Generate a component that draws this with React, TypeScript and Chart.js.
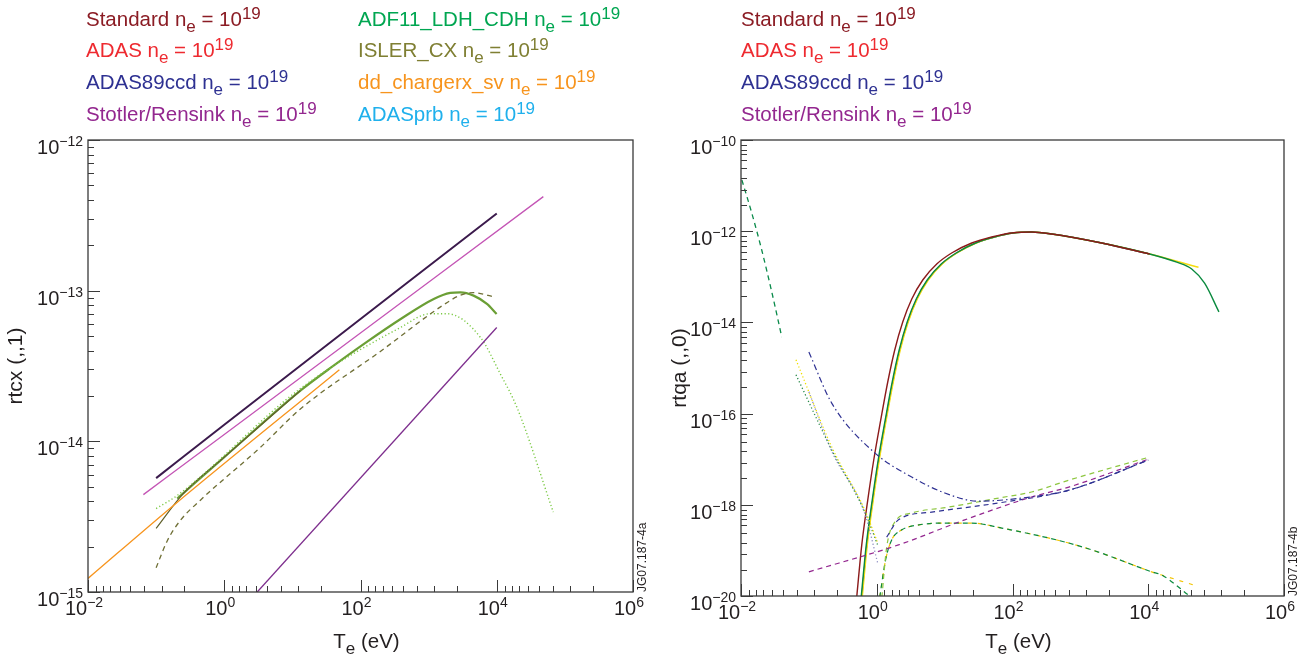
import React, { useEffect, useRef } from "react";
import { Chart, registerables } from "chart.js";

Chart.register(...registerables);

const FONT = "'Liberation Sans', Arial, Helvetica, sans-serif";

// ---------------- Tick labels ----------------
const X_MAJOR = [1e-2, 1e0, 1e2, 1e4, 1e6];
const X_MAJOR_EXP = ["\u22122", "0", "2", "4", "6"];
const X_MINOR_MULT = [1.3, 1.66, 2.12, 2.9, 4.2, 6.7, 12, 26];

const L_Y_MAJOR = [1e-15, 1e-14, 1e-13, 1e-12];
const L_Y_MAJOR_EXP = ["\u221215", "\u221214", "\u221213", "\u221212"];
const L_Y_MINOR_MULT = [2, 3, 4, 5, 6, 7, 8, 9];

const R_Y_MAJOR = [1e-20, 1e-18, 1e-16, 1e-14, 1e-12, 1e-10];
const R_Y_MAJOR_EXP = ["\u221220", "\u221218", "\u221216", "\u221214", "\u221212", "\u221210"];
const R_Y_MINOR_DIV = [1.28, 1.64, 2.07, 2.79, 4.17, 6.76, 12.3, 26.3];

// ---------------- Legends ----------------
const L_LEGEND_NAMES = ["Standard", "ADAS", "ADAS89ccd", "Stotler/Rensink", "ADF11_LDH_CDH", "ISLER_CX", "dd_chargerx_sv", "ADASprb"];
const L_LEGEND_COLORS = ["#8b1c24", "#ee2a30", "#2e3192", "#93278f", "#00a651", "#7f7f33", "#f7941d", "#1fb0ec"];
const R_LEGEND_NAMES = ["Standard", "ADAS", "ADAS89ccd", "Stotler/Rensink"];
const R_LEGEND_COLORS = ["#8b1c24", "#ee2a30", "#2e3192", "#93278f"];

// ---------------- Left panel data: rtcx(,,1) vs Te ----------------
const L_DARK_T = [0.1, 1, 1e4];
const L_DARK_V = [5.7e-15, 1.29e-14, 3.25e-13];
const L_PINK_T = [0.065, 1, 48300];
const L_PINK_V = [4.43e-15, 1.11e-14, 4.21e-13];
const L_PURPLE_T = [3.05, 1e4];
const L_PURPLE_V = [1.0e-15, 5.7e-14];
const L_ORANGE_T = [0.01, 0.178, 49];
const L_ORANGE_V = [1.23e-15, 3.74e-15, 2.99e-14];
const L_GREEN_T = [0.204, 1, 13.1, 40.3, 124, 384, 1190, 2080, 2920, 4570, 7180, 9950];
const L_GREEN_V = [4.17e-15, 7.85e-15, 2.17e-14, 3.18e-14, 4.57e-14, 6.46e-14, 8.81e-14, 9.66e-14, 9.75e-14, 9.27e-14, 8.17e-14, 7.0e-14];
const L_OLIVE_T = [0.1, 0.25, 1, 13.1];
const L_OLIVE_V = [2.64e-15, 4.5e-15, 7.85e-15, 2.17e-14];
const L_OLIVE_DASH_T = [0.1, 0.146, 0.226, 0.447, 3.39, 13.1, 200, 1580, 2920, 4570, 9550];
const L_OLIVE_DASH_V = [1.45e-15, 2.19e-15, 2.98e-15, 4.07e-15, 9.12e-15, 1.64e-14, 3.98e-14, 7.94e-14, 9.33e-14, 9.7e-14, 9.04e-14];
const L_DOT_T = [0.1, 0.204, 13.1, 384, 1060, 1860, 5750, 11200, 20000, 67600];
const L_DOT_V = [3.58e-15, 4.37e-15, 2.24e-14, 5.69e-14, 7.03e-14, 7.03e-14, 4.9e-14, 2.82e-14, 1.66e-14, 3.39e-15];

// ---------------- Right panel data: rtqa(,,0) vs Te ----------------
const R_RED_T = [0.507, 0.601, 0.737, 0.903, 1.145, 1.452, 1.841, 2.415, 3.28, 4.76, 7.65, 12.7, 25.1, 49.4, 97.3, 192, 378, 2060, 10500];
const R_RED_V = [9.5e-21, 1.31e-19, 1.27e-18, 9.6e-18, 7.24e-17, 4.93e-16, 2.48e-15, 1.02e-14, 3.26e-14, 8.51e-14, 1.91e-13, 3.33e-13, 5.51e-13, 7.46e-13, 9.14e-13, 9.59e-13, 8.69e-13, 5.51e-13, 3.16e-13];
const R_NAVY_T = [0.601, 0.712, 0.873, 1.07, 1.357, 1.721, 2.18, 2.86, 3.89, 5.64, 9.07, 15.0, 28.9, 54.3, 102, 192, 378, 2060, 10500];
const R_NAVY_V = [9.5e-21, 1.31e-19, 1.27e-18, 9.6e-18, 7.24e-17, 4.93e-16, 2.48e-15, 1.02e-14, 3.26e-14, 8.51e-14, 1.91e-13, 3.33e-13, 5.51e-13, 7.46e-13, 9.14e-13, 9.59e-13, 8.69e-13, 5.51e-13, 3.16e-13];
const R_YELLOW_T = [0.612, 0.725, 0.889, 1.09, 1.381, 1.752, 2.22, 2.91, 3.96, 5.74, 9.23, 15.2, 29.2, 54.6, 102, 192, 378, 2060, 10500, 55000];
const R_YELLOW_V = [9.5e-21, 1.31e-19, 1.27e-18, 9.6e-18, 7.24e-17, 4.93e-16, 2.48e-15, 1.02e-14, 3.26e-14, 8.51e-14, 1.91e-13, 3.33e-13, 5.51e-13, 7.46e-13, 9.14e-13, 9.59e-13, 8.69e-13, 5.51e-13, 3.16e-13, 1.62e-13];
const R_GREEN_T = [0.59, 0.7, 0.858, 1.05, 1.333, 1.69, 2.14, 2.81, 3.82, 5.54, 8.91, 14.8, 28.6, 54.0, 102, 192, 378, 2060, 10500, 26300, 43700, 67600, 110000];
const R_GREEN_V = [9.5e-21, 1.31e-19, 1.27e-18, 9.6e-18, 7.24e-17, 4.93e-16, 2.48e-15, 1.02e-14, 3.26e-14, 8.51e-14, 1.91e-13, 3.33e-13, 5.51e-13, 7.46e-13, 9.14e-13, 9.59e-13, 8.69e-13, 5.51e-13, 3.16e-13, 2.09e-13, 1.48e-13, 7.24e-14, 1.7e-14];
const R_GREEN_DASH_T = [0.0103, 0.0144, 0.0202, 0.0284, 0.0399];
const R_GREEN_DASH_V = [1.33e-11, 2.51e-12, 3.87e-13, 4.65e-14, 4.79e-15];
const R_YELLOW_DOT_T = [0.0646, 0.217, 0.665, 1.035];
const R_YELLOW_DOT_V = [1.51e-15, 1.86e-17, 7.76e-19, 1.45e-19];
const R_GREEN_DOT_T = [0.0646, 0.217, 0.665, 1.035];
const R_GREEN_DOT_V = [7.08e-16, 1.6e-17, 7.0e-19, 1.3e-19];
const R_GREY_DOT_T = [0.1, 0.217, 0.665, 1.035];
const R_GREY_DOT_V = [3.0e-16, 1.5e-17, 6.5e-19, 5.2e-20];
const R_NAVY_DASHDOT_T = [0.1, 0.217, 0.933, 3.27, 10, 31.6, 107, 676, 1e4];
const R_NAVY_DASHDOT_V = [2.24e-15, 1.7e-16, 1.38e-17, 4.07e-18, 1.82e-18, 1.2e-18, 1.35e-18, 2.09e-18, 9.55e-18];
const R_NAVY_DASH_T = [1.4, 2.09, 6.46, 63.1, 676, 1e4];
const R_NAVY_DASH_V = [1.95e-19, 4.68e-19, 6.92e-19, 1.1e-18, 2.09e-18, 9.55e-18];
const R_LGREEN_DASH_T = [1.19, 1.4, 1.84, 3.27, 11.5, 63.1, 191, 676, 10500];
const R_LGREEN_DASH_V = [9.5e-21, 1.17e-19, 4.17e-19, 6.61e-19, 8.91e-19, 1.41e-18, 1.91e-18, 3.47e-18, 1.12e-17];
const R_PURPLE_DASH_T = [0.1, 2.09, 19.8, 191, 676, 1e4];
const R_PURPLE_DASH_V = [3.39e-20, 1.32e-19, 4.68e-19, 1.48e-18, 2.45e-18, 1.0e-17];
const R_HUMP_Y_T = [1.107, 1.35, 1.66, 2.34, 4.17, 11.5, 25.1, 69.2, 676, 2040, 11200, 15800, 46800];
const R_HUMP_Y_V = [9.5e-21, 6.17e-20, 1.7e-19, 2.82e-19, 3.63e-19, 3.98e-19, 3.98e-19, 3.09e-19, 1.45e-19, 8.71e-20, 3.39e-20, 2.88e-20, 1.74e-20];
const R_HUMP_G_T = [1.107, 1.35, 1.66, 2.34, 4.17, 11.5, 25.1, 69.2, 676, 2040, 11200, 15800, 40700];
const R_HUMP_G_V = [9.5e-21, 6.17e-20, 1.7e-19, 2.82e-19, 3.63e-19, 3.98e-19, 3.98e-19, 3.09e-19, 1.45e-19, 8.71e-20, 3.39e-20, 2.88e-20, 1.0e-20];

type Series = { t: number[]; v: number[]; color: string; width: number; dash?: number[] };

const DASH = [5, 4];
const DOT = [1.2, 2.4];
const DASHDOT = [6, 3, 1.5, 3];

const LEFT_SERIES: Series[] = [
  { t: L_ORANGE_T, v: L_ORANGE_V, color: "#f7941d", width: 1.3 },
  { t: L_PURPLE_T, v: L_PURPLE_V, color: "#7e2f8e", width: 1.3 },
  { t: L_OLIVE_DASH_T, v: L_OLIVE_DASH_V, color: "#6f6f35", width: 1.3, dash: DASH },
  { t: L_DOT_T, v: L_DOT_V, color: "#7ac943", width: 1.4, dash: DOT },
  { t: L_OLIVE_T, v: L_OLIVE_V, color: "#5f5f2a", width: 1.2 },
  { t: L_GREEN_T, v: L_GREEN_V, color: "#6b9f35", width: 2.2 },
  { t: L_PINK_T, v: L_PINK_V, color: "#c455b5", width: 1.3 },
  { t: L_DARK_T, v: L_DARK_V, color: "#3b1a4c", width: 2 },
];

const RIGHT_SERIES: Series[] = [
  { t: R_GREEN_DASH_T, v: R_GREEN_DASH_V, color: "#0a8a4a", width: 1.3, dash: DASH },
  { t: R_YELLOW_DOT_T, v: R_YELLOW_DOT_V, color: "#f0e000", width: 1.3, dash: DOT },
  { t: R_GREEN_DOT_T, v: R_GREEN_DOT_V, color: "#2a8a4a", width: 1.3, dash: DOT },
  { t: R_GREY_DOT_T, v: R_GREY_DOT_V, color: "#8c8cc0", width: 1.3, dash: DOT },
  { t: R_NAVY_DASHDOT_T, v: R_NAVY_DASHDOT_V, color: "#2e3192", width: 1.2, dash: DASHDOT },
  { t: R_PURPLE_DASH_T, v: R_PURPLE_DASH_V, color: "#93278f", width: 1.2, dash: DASH },
  { t: R_NAVY_DASH_T, v: R_NAVY_DASH_V, color: "#2e3192", width: 1.2, dash: DASH },
  { t: R_LGREEN_DASH_T, v: R_LGREEN_DASH_V, color: "#8dc63f", width: 1.2, dash: DASH },
  { t: R_HUMP_G_T, v: R_HUMP_G_V, color: "#0a8a3e", width: 1.2, dash: DASH },
  { t: R_HUMP_Y_T, v: R_HUMP_Y_V, color: "#f2c400", width: 1.2, dash: [4, 6] },
  { t: R_RED_T, v: R_RED_V, color: "#8b1a1a", width: 1.4 },
  { t: R_GREEN_T, v: R_GREEN_V, color: "#0a8a3e", width: 1.4 },
  { t: R_YELLOW_T, v: R_YELLOW_V, color: "#f5dd10", width: 1.4 },
  { t: R_NAVY_T, v: R_NAVY_V, color: "#2e3192", width: 1.3 },
];

type Part = { t: string; size: number; dy: number };

function richWidth(ctx: CanvasRenderingContext2D, parts: Part[]) {
  let w = 0;
  for (const p of parts) {
    ctx.font = `${p.size}px ${FONT}`;
    w += ctx.measureText(p.t).width;
  }
  return w;
}

function drawRich(ctx: CanvasRenderingContext2D, parts: Part[], x: number, y: number, align: string, color: string) {
  const w = richWidth(ctx, parts);
  let cx = align === "left" ? x : align === "right" ? x - w : x - w / 2;
  ctx.fillStyle = color;
  ctx.textAlign = "left";
  ctx.textBaseline = "alphabetic";
  for (const p of parts) {
    ctx.font = `${p.size}px ${FONT}`;
    ctx.fillText(p.t, cx, y + p.dy);
    cx += ctx.measureText(p.t).width;
  }
}

const BIG = 20.5;
const SUB = 17;
const EXP = 14;

function legendParts(name: string): Part[] {
  return [
    { t: name + " n", size: BIG, dy: 0 },
    { t: "e", size: SUB, dy: 6 },
    { t: " = 10", size: BIG, dy: 0 },
    { t: "19", size: SUB, dy: -7 },
  ];
}

function powParts(exp: string): Part[] {
  return [
    { t: "10", size: 20, dy: 0 },
    { t: exp, size: EXP, dy: -8 },
  ];
}

type PanelCfg = {
  yMajor: number[];
  yMajorExp: string[];
  yMinor: number[];
  yTitle: string;
  yTitleOffset: number;
  code: string;
  legendNames: string[];
  legendColors: string[];
  legendX: number[];
};

function makeDecor(cfg: PanelCfg) {
  return {
    id: "decor",
    afterDraw(chart: any) {
      const ctx: CanvasRenderingContext2D = chart.ctx;
      const xs = chart.scales.x;
      const ys = chart.scales.y;
      const { left, right, top, bottom } = chart.chartArea;
      ctx.save();
      ctx.strokeStyle = "#3a3a3a";
      ctx.lineWidth = 1.3;
      ctx.strokeRect(left, top, right - left, bottom - top);
      ctx.lineWidth = 1;
      ctx.beginPath();
      X_MAJOR.forEach((v) => {
        const px = Math.round(xs.getPixelForValue(v)) + 0.5;
        ctx.moveTo(px, bottom);
        ctx.lineTo(px, bottom - 12);
      });
      for (let i = 0; i < X_MAJOR.length - 1; i++) {
        X_MINOR_MULT.forEach((m) => {
          const px = Math.round(xs.getPixelForValue(X_MAJOR[i] * m)) + 0.5;
          ctx.moveTo(px, bottom);
          ctx.lineTo(px, bottom - 6);
        });
      }
      cfg.yMajor.forEach((v) => {
        const py = Math.round(ys.getPixelForValue(v)) + 0.5;
        ctx.moveTo(left, py);
        ctx.lineTo(left + 12, py);
      });
      ctx.stroke();
      ctx.beginPath();
      cfg.yMinor.forEach((v) => {
        const py = Math.round(ys.getPixelForValue(v)) + 0.5;
        ctx.moveTo(left, py);
        ctx.lineTo(left + 6, py);
      });
      ctx.stroke();

      X_MAJOR.forEach((v, i) => {
        const px = xs.getPixelForValue(v);
        drawRich(ctx, powParts(X_MAJOR_EXP[i]), px - 4, bottom + 23, "center", "#231f20");
      });
      cfg.yMajor.forEach((v, i) => {
        const py = ys.getPixelForValue(v);
        drawRich(ctx, powParts(cfg.yMajorExp[i]), left - 5, py + 14, "right", "#231f20");
      });

      const xt: Part[] = [
        { t: "T", size: BIG, dy: 0 },
        { t: "e", size: SUB, dy: 6 },
        { t: " (eV)", size: BIG, dy: 0 },
      ];
      drawRich(ctx, xt, (left + right) / 2 + 6, 648, "center", "#231f20");
      ctx.save();
      ctx.translate(left - cfg.yTitleOffset, (top + bottom) / 2);
      ctx.rotate(-Math.PI / 2);
      drawRich(ctx, [{ t: cfg.yTitle, size: 21, dy: 0 }], 0, 0, "center", "#231f20");
      ctx.restore();

      ctx.save();
      ctx.translate(right + 13, bottom);
      ctx.rotate(-Math.PI / 2);
      ctx.font = `12px ${FONT}`;
      ctx.fillStyle = "#231f20";
      ctx.textAlign = "left";
      ctx.fillText(cfg.code, 0, 0);
      ctx.restore();

      const rowsY = [26, 57, 89, 121];
      cfg.legendNames.forEach((name, i) => {
        const col = Math.floor(i / 4);
        const row = i % 4;
        drawRich(ctx, legendParts(name), cfg.legendX[col], rowsY[row], "left", cfg.legendColors[i]);
      });
      ctx.restore();
    },
  };
}

function buildMinors(majors: number[], mult: number[], fromTop: boolean) {
  const out: number[] = [];
  for (let i = 0; i < majors.length - 1; i++) {
    mult.forEach((m) => out.push(fromTop ? majors[i + 1] / m : majors[i] * m));
  }
  return out;
}

function PanelChart(props: {
  width: number;
  height: number;
  left: number;
  series: Series[];
  yMin: number;
  yMax: number;
  padding: { left: number; right: number; top: number; bottom: number };
  cfg: PanelCfg;
}) {
  const ref = useRef<HTMLCanvasElement | null>(null);
  useEffect(() => {
    if (!ref.current) return;
    const chart = new Chart(ref.current, {
      type: "line",
      data: {
        datasets: props.series.map((s) => ({
          data: s.t.map((x, i) => ({ x, y: s.v[i] })),
          borderColor: s.color,
          backgroundColor: s.color,
          borderWidth: s.width,
          borderDash: s.dash || [],
          pointRadius: 0,
          fill: false,
          cubicInterpolationMode: "monotone",
        })) as any,
      },
      options: {
        responsive: false,
        animation: false,
        devicePixelRatio: 1,
        layout: { padding: props.padding },
        plugins: { legend: { display: false }, tooltip: { enabled: false }, title: { display: false } },
        scales: {
          x: { type: "logarithmic", min: 1e-2, max: 1e6, display: false },
          y: { type: "logarithmic", min: props.yMin, max: props.yMax, display: false },
        },
      } as any,
      plugins: [makeDecor(props.cfg)],
    });
    return () => chart.destroy();
  }, []);
  return (
    <canvas
      ref={ref}
      width={props.width}
      height={props.height}
      style={{ position: "absolute", left: props.left, top: 0, width: props.width, height: props.height }}
    />
  );
}

export default function App() {
  const leftCfg: PanelCfg = {
    yMajor: L_Y_MAJOR,
    yMajorExp: L_Y_MAJOR_EXP,
    yMinor: buildMinors(L_Y_MAJOR, L_Y_MINOR_MULT, false),
    yTitle: "rtcx (,,1)",
    yTitleOffset: 66,
    code: "JG07.187-4a",
    legendNames: L_LEGEND_NAMES,
    legendColors: L_LEGEND_COLORS,
    legendX: [86, 358],
  };
  const rightCfg: PanelCfg = {
    yMajor: R_Y_MAJOR,
    yMajorExp: R_Y_MAJOR_EXP,
    yMinor: buildMinors(R_Y_MAJOR, R_Y_MINOR_DIV, true),
    yTitle: "rtqa (,,0)",
    yTitleOffset: 55,
    code: "JG07.187-4b",
    legendNames: R_LEGEND_NAMES,
    legendColors: R_LEGEND_COLORS,
    legendX: [85],
  };
  return (
    <div style={{ position: "fixed", left: 0, top: 0, width: 1313, height: 664, background: "#ffffff" }}>
      <PanelChart
        width={656}
        height={664}
        left={0}
        series={LEFT_SERIES}
        yMin={1e-15}
        yMax={1e-12}
        padding={{ left: 88, right: 23, top: 140, bottom: 72 }}
        cfg={leftCfg}
      />
      <PanelChart
        width={657}
        height={664}
        left={656}
        series={RIGHT_SERIES}
        yMin={1e-20}
        yMax={1e-10}
        padding={{ left: 85, right: 29, top: 140, bottom: 68 }}
        cfg={rightCfg}
      />
    </div>
  );
}
